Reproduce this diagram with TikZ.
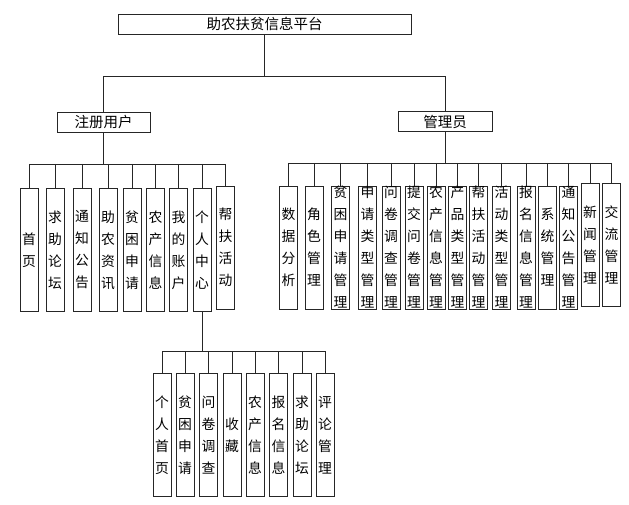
\documentclass[tikz,border=0pt]{standalone}
\usepackage{fontspec}
\setmainfont{Noto Sans CJK SC}
\usepackage{tikz}
\usetikzlibrary{positioning,calc}
\definecolor{orgLine}{HTML}{262626}

\begin{document}
\begin{tikzpicture}[
  x=1pt,y=-1pt,
  font=\fontsize{14.5}{22}\selectfont,
  hb/.style={draw=orgLine,line width=0.9pt,minimum height=20pt,inner sep=0pt},
  vb/.style={draw=orgLine,line width=0.9pt,minimum width=18pt,minimum height=123pt,
             inner sep=0pt,align=center,font=\fontsize{13.8}{22}\selectfont},
  ln/.style={draw=orgLine,line width=0.9pt}
]
\useasboundingbox (0,0) rectangle (629,505);
% top level
\node[hb,minimum width=293pt] (plat) at (264.5,24) {助农扶贫信息平台};
\node[hb,minimum width=93pt] (user) at (103.5,122) {注册用户};
\node[hb,minimum width=94pt] (admin) at (445,121.5) {管理员};
\coordinate (topbus) at (264.5,76);
\draw[ln] (plat.south) -- (topbus);
\draw[ln] (topbus) -| (user.north);
\draw[ln] (topbus) -| (admin.north);

% registered user
\coordinate (ubus) at (103.5,164);
\node[vb] (u1) at (29,250) {首\\页};
\node[vb] (u2) at (55,250) {求\\助\\论\\坛};
\node[vb] (u3) at (82,250) {通\\知\\公\\告};
\node[vb] (u4) at (108,250) {助\\农\\资\\讯};
\node[vb] (u5) at (132,250) {贫\\困\\申\\请};
\node[vb] (u6) at (155.5,250) {农\\产\\信\\息};
\node[vb] (u7) at (178.5,250) {我\\的\\账\\户};
\node[vb] (u8) at (202,250) {个\\人\\中\\心};
\node[vb] (u9) at (225.5,247.5) {帮\\扶\\活\\动};
\draw[ln] (user.south) -- (ubus);
\draw[ln] (u1.north |- ubus) -- (u9.north |- ubus);
\foreach \c in {u1,u2,u3,u4,u5,u6,u7,u8,u9}
  \draw[ln] (\c.north |- ubus) -- (\c.north);

% administrator
\coordinate (abus) at (445,163);
\node[vb] (a1) at (288.5,247.5) {数\\据\\分\\析};
\node[vb] (a2) at (314,247.5) {角\\色\\管\\理};
\node[vb] (a3) at (340.5,247.5) {贫\\困\\申\\请\\管\\理};
\node[vb] (a4) at (367.5,247.5) {申\\请\\类\\型\\管\\理};
\node[vb] (a5) at (391,247.5) {问\\卷\\调\\查\\管\\理};
\node[vb] (a6) at (414,247.5) {提\\交\\问\\卷\\管\\理};
\node[vb] (a7) at (436,247.5) {农\\产\\信\\息\\管\\理};
\node[vb] (a8) at (457.5,247.5) {产\\品\\类\\型\\管\\理};
\node[vb] (a9) at (478.5,247.5) {帮\\扶\\活\\动\\管\\理};
\node[vb] (a10) at (501.5,247.5) {活\\动\\类\\型\\管\\理};
\node[vb] (a11) at (526,247.5) {报\\名\\信\\息\\管\\理};
\node[vb] (a12) at (547.5,247.5) {系\\统\\管\\理};
\node[vb] (a13) at (568.5,247.5) {通\\知\\公\\告\\管\\理};
\node[vb] (a14) at (590,245) {新\\闻\\管\\理};
\node[vb] (a15) at (611.5,245) {交\\流\\管\\理};
\draw[ln] (admin.south) -- (abus);
\draw[ln] (a1.north |- abus) -- (a15.north |- abus);
\foreach \c in {a1,a2,a3,a4,a5,a6,a7,a8,a9,a10,a11,a12,a13,a14,a15}
  \draw[ln] (\c.north |- abus) -- (\c.north);

% personal centre
\coordinate (pbus) at (202,351);
\node[vb] (p1) at (162,435) {个\\人\\首\\页};
\node[vb] (p2) at (185,435) {贫\\困\\申\\请};
\node[vb] (p3) at (208.5,435) {问\\卷\\调\\查};
\node[vb] (p4) at (232,435) {收\\藏};
\node[vb] (p5) at (255,435) {农\\产\\信\\息};
\node[vb] (p6) at (278.5,435) {报\\名\\信\\息};
\node[vb] (p7) at (302,435) {求\\助\\论\\坛};
\node[vb] (p8) at (325,435) {评\\论\\管\\理};
\draw[ln] (u8.south) -- (pbus);
\draw[ln] (p1.north |- pbus) -- (p8.north |- pbus);
\foreach \c in {p1,p2,p3,p4,p5,p6,p7,p8}
  \draw[ln] (\c.north |- pbus) -- (\c.north);
\end{tikzpicture}
\end{document}
